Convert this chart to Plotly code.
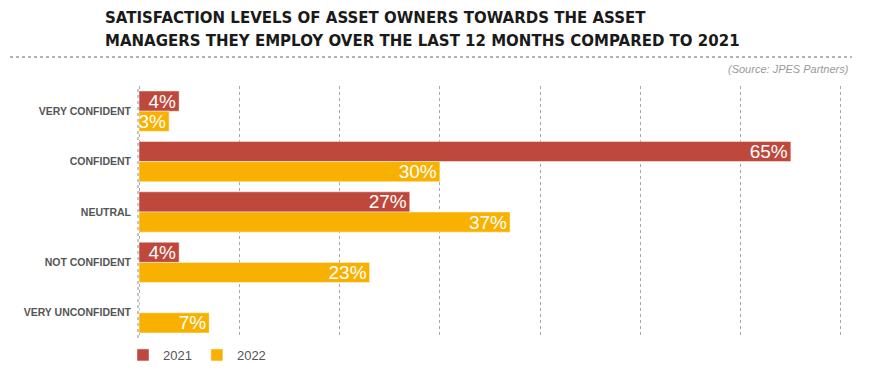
import plotly.graph_objects as go

categories = ["VERY CONFIDENT", "CONFIDENT", "NEUTRAL", "NOT CONFIDENT", "VERY UNCONFIDENT"]
values_2021 = [4, 65, 27, 4, 0]
values_2022 = [3, 30, 37, 23, 7]
series_names = ["2021", "2022"]
title_lines = [
    "SATISFACTION LEVELS OF ASSET OWNERS TOWARDS THE ASSET",
    "MANAGERS THEY EMPLOY OVER THE LAST 12 MONTHS COMPARED TO 2021",
]
source_text = "(Source: JPES Partners)"

# page body has an 8px margin; work in page coordinates and convert
OFF = 8
W, H = 873 - OFF, 371 - OFF
XMIN, XMAX = -0.3, 70.3
scale = (841 - 139) / 70.0
L = 139 - OFF + XMIN * scale
Rpx = 841 - OFF + (XMAX - 70) * scale
R = W - Rpx
T, B = 86 - OFF, 371 - 338
pw, ph = Rpx - L, H - T - B

def px_x(x):
    return (x - OFF - L) / pw

def px_y(y):
    return (H - B - (y - OFF)) / ph

colors = ["#BE483C", "#F8B100"]
fig = go.Figure()
for name, vals, col in zip(series_names, [values_2021, values_2022], colors):
    fig.add_trace(go.Bar(
        y=categories, x=vals, name=name, orientation="h",
        marker=dict(color=col, line=dict(color="rgba(255,255,255,0.45)", width=1)),
        text=[f"{v}%" if v else "" for v in vals],
        textposition="inside", insidetextanchor="end", constraintext="none",
        textfont=dict(color="white", size=19, family="Liberation Sans"),
        hoverinfo="skip",
    ))

fig.update_layout(
    width=W, height=H,
    margin=dict(l=L, r=R, t=T, b=B, autoexpand=False),
    paper_bgcolor="white", plot_bgcolor="white",
    barmode="group", bargap=0.2, bargroupgap=0.0,
    showlegend=True,
    legend=dict(orientation="h", x=px_x(123), xanchor="left", y=px_y(355), yanchor="middle",
                font=dict(size=13, color="#555555", family="Liberation Sans"),
                itemwidth=30, traceorder="normal"),
    xaxis=dict(range=[XMIN, XMAX], dtick=10, tick0=0, showgrid=True, gridcolor="#a8a8a8",
               griddash="dot", gridwidth=1.2, zeroline=False, showticklabels=False,
               showline=False, fixedrange=True),
    yaxis=dict(autorange="reversed", showgrid=False, zeroline=False, ticks="",
               ticklabelstandoff=4,
               tickfont=dict(size=10.5, color="#555555", family="Liberation Sans", weight="bold")),
    font=dict(family="Liberation Sans"),
)

for i, line in enumerate(title_lines):
    fig.add_annotation(
        text=line, xref="paper", yref="paper", x=px_x(103), y=px_y(18 + 23 * i),
        xanchor="left", yanchor="middle", showarrow=False,
        font=dict(size=15, color="#1a1a1a", family="DejaVu Sans", weight="bold"),
    )

fig.add_annotation(
    text=source_text, xref="paper", yref="paper", x=px_x(851), y=px_y(69),
    xanchor="right", yanchor="middle", showarrow=False,
    font=dict(size=11, color="#9a9a9a", family="Liberation Sans", style="italic"),
)

fig.add_shape(type="line", xref="paper", yref="paper",
              x0=px_x(10), x1=px_x(852), y0=px_y(57), y1=px_y(57),
              line=dict(color="#9a9a9a", width=1.5, dash="dot"))

# baseline gridline at 0, just left of the bar start
fig.add_shape(type="line", xref="x", yref="paper", x0=-0.1, x1=-0.1, y0=0, y1=1,
              layer="above", line=dict(color="#a0a0a0", width=1.2, dash="dot"))

fig.write_html("out.html")
